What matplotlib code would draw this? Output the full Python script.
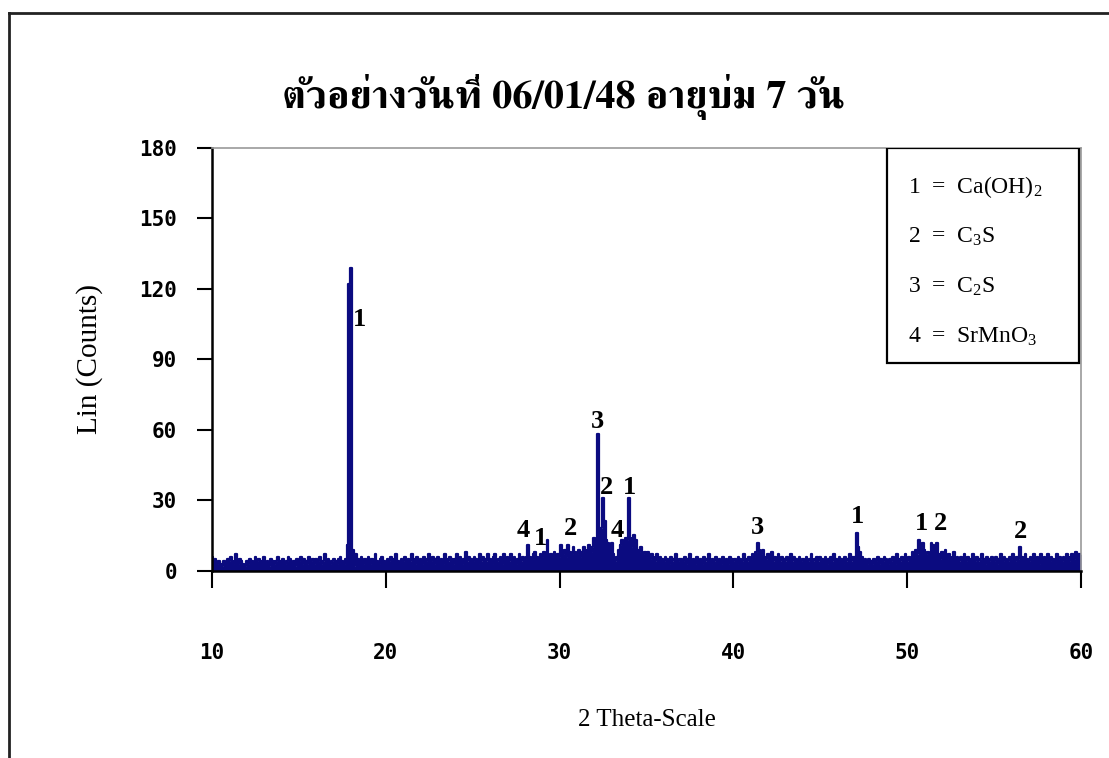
import numpy as np
import matplotlib
matplotlib.use("Agg")
import matplotlib.pyplot as plt
from matplotlib import font_manager
from matplotlib.ft2font import FT2Font
from matplotlib.lines import Line2D
from matplotlib.patches import Rectangle

# ---- data -------------------------------------------------------------
two_theta_start = 10.0
two_theta_step = 0.1

counts = [
    # 10.0 - 10.9
    6, 4, 5, 3, 4, 3, 2, 4, 3, 5,
    4, 6, 3, 4, 7, 3, 5, 4, 3, 2,
    4, 3, 5, 4, 3, 6, 4, 5, 3, 4,
    6, 3, 4, 2, 5, 4, 3, 4, 6, 3,
    4, 5, 3, 4, 6, 5, 3, 4, 2, 5,
    4, 6, 3, 5, 4, 3, 6, 4, 5, 3,
    5, 4, 6, 3, 4, 7, 4, 5, 3, 4,
    5, 4, 3, 5, 6, 4, 3, 5, 11, 122,
    # 18.0 - 18.9
    129, 9, 2, 7, 5, 4, 6, 3, 5, 4,
    6, 3, 5, 4, 7, 4, 3, 5, 6, 4,
    3, 5, 4, 6, 3, 5, 7, 4, 3, 5,
    4, 6, 3, 5, 4, 7, 5, 3, 6, 4,
    5, 3, 6, 4, 5, 7, 4, 6, 3, 5,
    6, 4, 5, 3, 7, 5, 4, 6, 5, 3,
    5, 7, 4, 6, 3, 5, 8, 4, 6, 5,
    4, 6, 5, 3, 7, 4, 6, 5, 4, 7,
    5, 3, 6, 7, 4, 5, 6, 3, 7, 5,
    6, 4, 7, 5, 6, 3, 5, 7, 4, 6,
    # 28.0 - 28.9
    5, 6, 11, 6, 5, 7, 8, 6, 5, 7,
    6, 8, 7, 13, 6, 7, 5, 8, 6, 7,
    6, 11, 7, 9, 6, 11, 8, 7, 10, 8,
    7, 9, 6, 8, 10, 7, 9, 11, 8, 10,
    14, 12, 58, 12, 18, 31, 21, 13, 12, 11,
    12, 7, 4, 6, 9, 11, 13, 12, 14, 13,
    31, 10, 14, 15, 13, 9, 8, 10, 7, 8,
    6, 8, 5, 7, 6, 4, 7, 5, 6, 5,
    4, 6, 5, 3, 6, 4, 5, 7, 4, 5,
    5, 4, 6, 3, 5, 7, 4, 5, 3, 6,
    # 38.0 - 38.9
    4, 5, 3, 6, 4, 5, 7, 3, 5, 4,
    6, 4, 5, 3, 6, 4, 5, 3, 6, 5,
    4, 5, 3, 6, 5, 4, 7, 5, 4, 6,
    5, 7, 6, 8, 12, 9, 7, 9, 6, 5,
    7, 5, 8, 4, 6, 5, 7, 4, 6, 5,
    4, 6, 5, 7, 4, 6, 5, 3, 6, 4,
    5, 3, 6, 4, 5, 7, 4, 5, 6, 4,
    6, 5, 4, 6, 3, 5, 6, 4, 7, 5,
    4, 6, 5, 3, 6, 4, 5, 7, 4, 6,
    6, 16, 10, 8, 6, 4, 5, 3, 5, 4,
    # 48.0 - 48.9
    3, 5, 4, 6, 3, 5, 4, 6, 5, 3,
    5, 4, 6, 3, 7, 5, 4, 6, 5, 7,
    4, 6, 5, 8, 6, 9, 7, 13, 10, 12,
    9, 7, 8, 6, 12, 11, 9, 12, 7, 5,
    8, 6, 9, 5, 7, 4, 6, 8, 5, 6,
    4, 6, 5, 7, 4, 6, 3, 5, 7, 4,
    6, 4, 5, 7, 5, 3, 6, 4, 5, 6,
    4, 6, 3, 5, 7, 4, 6, 5, 4, 6,
    5, 7, 4, 6, 5, 10, 6, 4, 7, 5,
    4, 6, 5, 7, 4, 6, 3, 7, 5, 6,
    # 58.0 - 58.9
    5, 7, 4, 6, 5, 3, 7, 5, 6, 4,
    6, 5, 7, 4, 6, 7, 5, 8, 6, 7,
    7,
]

# phase markers: (2-theta, counts) where each number is printed
peak_ids = ["1", "4", "1", "2", "3", "2", "4", "1", "3", "1", "1", "2", "2"]
peak_x = [18.5, 27.9, 28.9, 30.6, 32.2, 32.7, 33.3, 34.05, 41.4, 47.15, 50.8, 51.9, 56.5]
peak_y = [107.0, 17.3, 13.5, 17.8, 63.4, 35.4, 17.3, 35.4, 18.6, 22.9, 19.9, 19.9, 16.9]

phase_key = ["1", "2", "3", "4"]
phase_names = [r"Ca(OH)$_2$", r"C$_3$S", r"C$_2$S", r"SrMnO$_3$"]

title_text = "ตัวอย่างวันที่ 06/01/48 อายุบ่ม 7 วัน"
x_ticks = [10, 20, 30, 40, 50, 60]
y_ticks = [0, 30, 60, 90, 120, 150, 180]


def family_with(char, fallback="DejaVu Sans"):
    code = ord(char)
    found = []
    for fe in font_manager.fontManager.ttflist:
        try:
            cmap = FT2Font(fe.fname).get_charmap()
        except Exception:
            continue
        if code in cmap:
            found.append(fe)
    if not found:
        return fallback
    # prefer bold serif-looking faces
    found.sort(key=lambda f: (0 if f.weight in ("bold", 700) or str(f.weight) == "700" else 1,
                              0 if "Serif" in f.name else 1))
    return found[0].name


thai_font = family_with("ต")

plt.rcParams["mathtext.fontset"] = "custom"
plt.rcParams["mathtext.rm"] = "Liberation Serif"
plt.rcParams["mathtext.it"] = "Liberation Serif:italic"

navy = "#0b0b80"

fig = plt.figure(figsize=(11.09, 7.58), dpi=100)
fig.patch.set_facecolor("white")

ax = fig.add_axes([212 / 1109, 187.3 / 758, 869 / 1109, 422.7 / 758])

x = two_theta_start + two_theta_step * np.arange(len(counts))
y = np.array(counts, dtype=float)
ax.fill_between(x, 0, y, step="mid", color=navy, linewidth=0)
ax.step(x, y, where="mid", color=navy, linewidth=1.6)

ax.set_xlim(10, 60)
ax.set_ylim(0, 180)
ax.set_xticks(x_ticks)
ax.set_yticks(y_ticks)

tick_font = dict(family="DejaVu Sans Mono", weight="bold", size=15)
ax.set_xticklabels([str(t) for t in x_ticks], fontdict=tick_font)
ax.set_yticklabels([str(t) for t in y_ticks], fontdict=tick_font)
ax.tick_params(axis="x", direction="out", length=12, width=1.5, pad=40, colors="black")
ax.tick_params(axis="y", direction="out", length=11, width=1.5, pad=14, colors="black")

for side in ("left", "bottom"):
    ax.spines[side].set_linewidth(1.8)
    ax.spines[side].set_color("black")
for side in ("top", "right"):
    ax.spines[side].set_linewidth(1.2)
    ax.spines[side].set_color("#9a9a9a")

ax.set_xlabel("2 Theta-Scale", family="Liberation Serif", fontsize=18, labelpad=33)
ax.set_ylabel("Lin (Counts)", family="Liberation Serif", fontsize=21, labelpad=26)

for lab, px, py in zip(peak_ids, peak_x, peak_y):
    ax.text(px, py, lab, ha="center", va="center", family="Liberation Serif",
            weight="bold", fontsize=19, color="black")

# key box in the upper right corner
box = Rectangle((0.7767, 0.4914), 0.221, 0.5086, transform=ax.transAxes,
                facecolor="white", edgecolor="black", linewidth=1.6, zorder=5)
ax.add_patch(box)
key_y = [0.9077, 0.7894, 0.6711, 0.5528]
for k, name, ky in zip(phase_key, phase_names, key_y):
    ax.text(0.801, ky, f"{k}  =  {name}", transform=ax.transAxes, ha="left", va="center",
            family="Liberation Serif", fontsize=17, zorder=6)

fig.text(564 / 1109, 1 - 97 / 758, title_text, ha="center", va="center",
         family=[thai_font, "DejaVu Sans"], weight="bold", fontsize=29)

# outer frame
fig.add_artist(Line2D([9 / 1109, 9 / 1109], [0, 1 - 13 / 758], transform=fig.transFigure,
                      color="#222222", linewidth=2))
fig.add_artist(Line2D([9 / 1109, 1], [1 - 13 / 758, 1 - 13 / 758], transform=fig.transFigure,
                      color="#222222", linewidth=2))

fig.savefig("out.png", dpi=100)
